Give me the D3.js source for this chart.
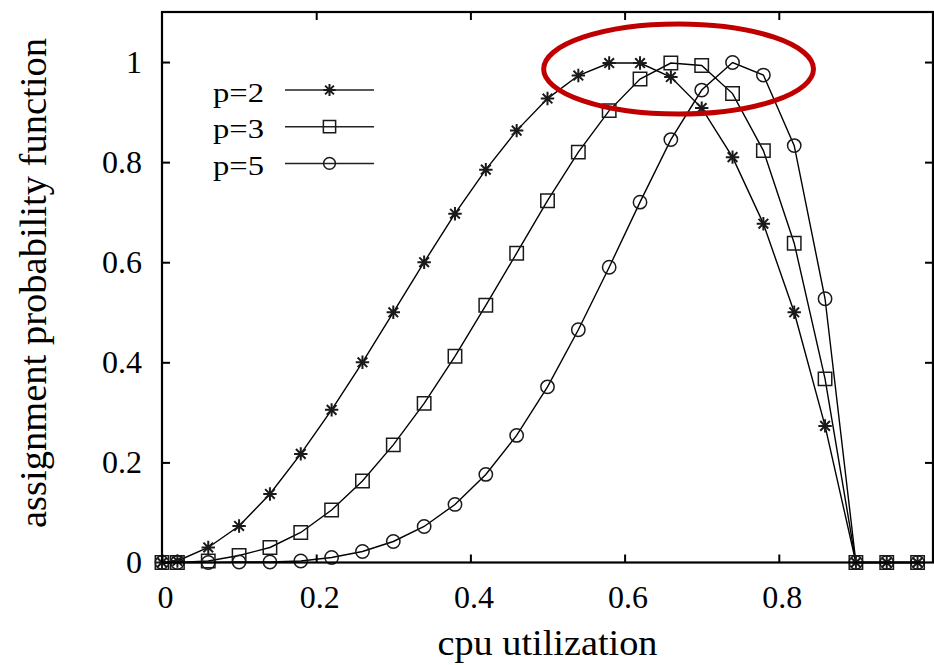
<!DOCTYPE html>
<html>
<head>
<meta charset="utf-8">
<script src="https://cdn.jsdelivr.net/npm/d3@7"></script>
<style>
  body { margin: 0; background: #fff; }
  svg { display: block; }
  svg text { font-family: "Liberation Serif", "Times New Roman", Times, serif; }
</style>
</head>
<body>
<div id="chart"></div>
<script>
'use strict';

// cpu utilization (x values shared by all series)
let utilization = [0, 0.02, 0.06, 0.10, 0.14, 0.18, 0.22, 0.26, 0.30, 0.34, 0.38, 0.42, 0.46,
                   0.50, 0.54, 0.58, 0.62, 0.66, 0.70, 0.74, 0.78, 0.82, 0.86, 0.90, 0.94, 0.98];

// assignment probability
let p2Values = [0, 0.003, 0.03, 0.073, 0.137, 0.217, 0.305, 0.40, 0.50, 0.60, 0.697, 0.785, 0.863,
                0.927, 0.973, 0.998, 0.998, 0.97, 0.908, 0.81, 0.677, 0.50, 0.273, 0, 0, 0];
let p3Values = [0, 0, 0.003, 0.014, 0.03, 0.06, 0.105, 0.163, 0.235, 0.318, 0.412, 0.514, 0.618,
                0.723, 0.82, 0.903, 0.966, 0.998, 0.993, 0.937, 0.823, 0.638, 0.367, 0, 0, 0];
let p5Values = [0, 0, 0, 0.001, 0.001, 0.003, 0.01, 0.022, 0.042, 0.072, 0.116, 0.176, 0.254,
                0.351, 0.465, 0.59, 0.72, 0.845, 0.944, 0.999, 0.974, 0.833, 0.527, 0, 0, 0];

let seriesNames = ['p=2', 'p=3', 'p=5'];
let seriesMarkers = ['star', 'square', 'circle'];

// tick labels
let xTickValues = [0, 0.2, 0.4, 0.6, 0.8];
let yTickValues = [0, 0.2, 0.4, 0.6, 0.8, 1];
let xMirrorTicks = [0.2, 0.4, 0.6, 0.8];
let yMirrorTicks = [0.2, 0.4, 0.6, 0.8, 1];

// red highlight ellipse (data units): center and radii
let highlightCenter = [0.67, 0.986];
let highlightRadius = [0.175, 0.09];

// gnuplot style asterisk: a plus and a cross on top of each other
const symbolStar = {
    draw(context, size) {
        let r = Math.sqrt(size) / 2;
        let d = r * 0.72;
        context.moveTo(-r, 0); context.lineTo(r, 0);
        context.moveTo(0, -r); context.lineTo(0, r);
        context.moveTo(-d, -d); context.lineTo(d, d);
        context.moveTo(-d, d); context.lineTo(d, -d);
    }
};

class LineChart {
    /*
     - container: DOM selector
     - width, height: vis size
     - margin: [top, bottom, left, right]
     */
    #scaleX;
    #scaleY;

    constructor(container, width, height, margin) {
        this.width = width;
        this.height = height;
        this.margin = margin;

        this.svg = d3.select(container)
            .append('svg')
            .attr('width', this.width)
            .attr('height', this.height);

        this.chart = this.svg.append('g')
            .attr('transform', `translate(${this.margin[2]},${this.margin[0]})`);

        this.#scaleX = d3.scaleLinear();
        this.#scaleY = d3.scaleLinear();
    }

    #updateScales() {
        this.chartWidth = this.width - this.margin[2] - this.margin[3];
        this.chartHeight = this.height - this.margin[0] - this.margin[1];
        this.#scaleX.domain([0, 1]).range([0, this.chartWidth]);
        this.#scaleY.domain([0, 1.1]).range([this.chartHeight, 0]);
    }

    #symbolFor(name, size) {
        let type = name === 'star' ? symbolStar : (name === 'square' ? d3.symbolSquare : d3.symbolCircle);
        return d3.symbol().type(type).size(size)();
    }

    #styleAxis(g) {
        g.select('.domain').remove();
        g.selectAll('.tick line').attr('stroke', '#000').attr('stroke-width', 2);
        g.attr('font-family', null).attr('font-size', 32);
        g.selectAll('.tick text').attr('fill', '#000');
    }

    render(series) {
        this.series = series;
        this.#updateScales();
        let x = this.#scaleX, y = this.#scaleY;
        let fmt = d3.format('~g');

        // axes with inward ticks on all four sides
        this.chart.append('g')
            .attr('transform', `translate(0,${this.chartHeight})`)
            .call(d3.axisBottom(x).tickValues(xTickValues).tickFormat(fmt).tickSize(-8).tickPadding(23))
            .call(g => this.#styleAxis(g))
            .call(g => g.selectAll('.tick text').attr('dx', 3));

        this.chart.append('g')
            .call(d3.axisLeft(y).tickValues(yTickValues).tickFormat(fmt).tickSize(-8).tickPadding(20))
            .call(g => this.#styleAxis(g));

        this.chart.append('g')
            .call(d3.axisTop(x).tickValues(xMirrorTicks).tickFormat('').tickSize(-8))
            .call(g => this.#styleAxis(g));

        this.chart.append('g')
            .attr('transform', `translate(${this.chartWidth},0)`)
            .call(d3.axisRight(y).tickValues(yMirrorTicks).tickFormat('').tickSize(-8))
            .call(g => this.#styleAxis(g));

        // data lines
        let line = d3.line().x(d => x(d.x)).y(d => y(d.y));
        this.chart.selectAll('path.series')
            .data(this.series)
            .join('path')
            .classed('series', true)
            .attr('d', s => line(s.points))
            .attr('fill', 'none')
            .attr('stroke', '#000')
            .attr('stroke-width', 1.4);

        // markers
        this.series.forEach(s => {
            this.chart.append('g')
                .selectAll('path')
                .data(s.points)
                .join('path')
                .attr('transform', d => `translate(${x(d.x)},${y(d.y)})`)
                .attr('d', this.#symbolFor(s.marker, s.marker === 'circle' ? 140 : 180))
                .attr('fill', 'none')
                .attr('stroke', '#1a1a1a')
                .attr('stroke-width', s.marker === 'star' ? 2 : 1.5);
        });

        // frame
        this.chart.append('rect')
            .attr('width', this.chartWidth)
            .attr('height', this.chartHeight)
            .attr('fill', 'none')
            .attr('stroke', '#000')
            .attr('stroke-width', 2.2);

        // legend (top left inside plot)
        let legend = this.svg.append('g');
        this.series.forEach((s, i) => {
            let ly = 90 + i * 36.7;
            legend.append('line')
                .attr('x1', 285).attr('x2', 374)
                .attr('y1', ly).attr('y2', ly)
                .attr('stroke', '#222').attr('stroke-width', 1.5);
            legend.append('path')
                .attr('transform', `translate(329.5,${ly})`)
                .attr('d', this.#symbolFor(s.marker, s.marker === 'circle' ? 110 : 150))
                .attr('fill', 'none')
                .attr('stroke', '#1a1a1a')
                .attr('stroke-width', s.marker === 'star' ? 2 : 1.5);
            legend.append('text')
                .attr('x', 264).attr('y', ly + 11.5)
                .attr('text-anchor', 'end')
                .attr('font-size', 27)
                .attr('textLength', 51)
                .attr('lengthAdjust', 'spacingAndGlyphs')
                .text(s.name);
        });

        // axis titles
        this.svg.append('text')
            .attr('x', this.margin[2] + this.chartWidth / 2)
            .attr('y', 655)
            .attr('text-anchor', 'middle')
            .attr('font-size', 35)
            .attr('textLength', 220)
            .attr('lengthAdjust', 'spacingAndGlyphs')
            .text('cpu utilization');

        this.svg.append('text')
            .attr('transform', 'translate(46,283) rotate(-90)')
            .attr('text-anchor', 'middle')
            .attr('font-size', 38)
            .attr('textLength', 490)
            .attr('lengthAdjust', 'spacingAndGlyphs')
            .text('assignment probability function');

        // red highlight around the peaks
        this.chart.append('ellipse')
            .attr('cx', x(highlightCenter[0]))
            .attr('cy', y(highlightCenter[1]))
            .attr('rx', x(highlightRadius[0]) - x(0))
            .attr('ry', y(0) - y(highlightRadius[1]))
            .attr('fill', 'none')
            .attr('stroke', '#c00000')
            .attr('stroke-width', 5);
    }
}

let valueLists = [p2Values, p3Values, p5Values];
let series = seriesNames.map((name, i) => ({
    name: name,
    marker: seriesMarkers[i],
    points: utilization.map((u, j) => ({x: u, y: valueLists[i][j]}))
}));

let chart = new LineChart('#chart', 934, 665, [12, 102.5, 162, 1]);
chart.render(series);
</script>
</body>
</html>
